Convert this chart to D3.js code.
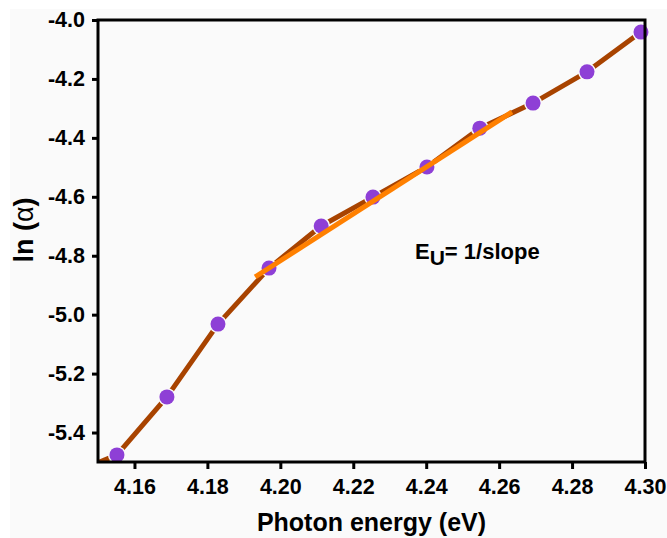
<!DOCTYPE html>
<html>
<head>
<meta charset="utf-8">
<script src="https://cdn.jsdelivr.net/npm/d3@7"></script>
<style>
  html, body { margin: 0; padding: 0; background: #ffffff; }
  svg { display: block; }
  text { font-family: "Liberation Sans", Arial, sans-serif; font-weight: bold; fill: #000; }
</style>
</head>
<body>
<svg id="chart" width="667" height="538"></svg>
<script>
// ---- data ----
const photonEnergy = [4.1409, 4.1552, 4.1689, 4.1829, 4.1969, 4.2112, 4.2254, 4.2402, 4.2547, 4.2693, 4.2841, 4.2989];
const lnAlpha      = [-5.548, -5.476, -5.279, -5.032, -4.842, -4.699, -4.601, -4.499, -4.367, -4.282, -4.176, -4.041];
const fitX = [4.1931, 4.2635];
const fitY = [-4.872, -4.312];
const xTicks = [4.16, 4.18, 4.20, 4.22, 4.24, 4.26, 4.28, 4.30];
const yTicks = [-4.0, -4.2, -4.4, -4.6, -4.8, -5.0, -5.2, -5.4];
const xTitle = "Photon energy (eV)";
const annotation = { main: "E", sub: "U", rest: "= 1/slope" };

// ---- layout ----
const svg = d3.select("#chart");
const W = 667, H = 538;
const m = { left: 98, right: 645, top: 20, bottom: 462 };

svg.append("rect").attr("x", 10).attr("y", 9).attr("width", W - 10).attr("height", H - 9).attr("fill", "#fafafa");

const x = d3.scaleLinear().domain([4.15, 4.30]).range([m.left, m.right]);
const y = d3.scaleLinear().domain([-5.5, -4.0]).range([m.bottom, m.top]);

svg.append("clipPath").attr("id", "clip")
  .append("rect").attr("x", m.left).attr("y", m.top)
  .attr("width", m.right - m.left).attr("height", m.bottom - m.top);

const pts = photonEnergy.map((e, i) => [e, lnAlpha[i]]);
const plot = svg.append("g").attr("clip-path", "url(#clip)");

plot.append("path")
  .datum(pts)
  .attr("d", d3.line().x(d => x(d[0])).y(d => y(d[1])))
  .attr("fill", "none").attr("stroke", "#a84300").attr("stroke-width", 5)
  .attr("stroke-linejoin", "round");

const dotsG = svg.append("g");
dotsG.selectAll("circle").data(pts.filter(d => d[1] >= -5.5))
  .enter().append("circle")
  .attr("cx", d => x(d[0])).attr("cy", d => y(d[1])).attr("r", 7.5)
  .attr("fill", "#8e3fd6").attr("stroke", "#fafafa").attr("stroke-width", 3)
  .attr("paint-order", "stroke");

svg.append("line")
  .attr("x1", x(fitX[0])).attr("y1", y(fitY[0]))
  .attr("x2", x(fitX[1])).attr("y2", y(fitY[1]))
  .attr("stroke", "#ff8000").attr("stroke-width", 5);

// ---- axes ----
const xAxis = d3.axisBottom(x).tickValues(xTicks).tickFormat(d3.format(".2f")).tickSize(7).tickPadding(10);
const yAxis = d3.axisLeft(y).tickValues(yTicks).tickFormat(d3.format(".1f")).tickSize(6).tickPadding(7);

const gx = svg.append("g").attr("transform", `translate(0,${m.bottom})`).call(xAxis);
const gy = svg.append("g").attr("transform", `translate(${m.left},0)`).call(yAxis);
[gx, gy].forEach(g => {
  g.select(".domain").remove();
  g.selectAll(".tick line").attr("stroke", "#000").attr("stroke-width", 3);
  g.selectAll(".tick text").attr("font-size", 21.5).attr("font-family", "Liberation Sans, Arial, sans-serif").attr("font-weight", "bold").attr("fill", "#000");
});
gy.selectAll(".tick text").text(d => d3.format(".1f")(d).replace("−", "-"));

svg.append("rect")
  .attr("x", m.left).attr("y", m.top)
  .attr("width", m.right - m.left).attr("height", m.bottom - m.top)
  .attr("fill", "none").attr("stroke", "#000").attr("stroke-width", 3);

// ---- titles ----
svg.append("text")
  .attr("x", (m.left + m.right) / 2).attr("y", 531)
  .attr("text-anchor", "middle").attr("font-size", 25)
  .text(xTitle);

const yt = svg.append("text")
  .attr("transform", `translate(33,${(m.top + m.bottom) / 2 - 11}) rotate(-90)`)
  .attr("text-anchor", "middle").attr("font-size", 27);
yt.append("tspan").text("ln (");
yt.append("tspan").attr("font-weight", "normal").text("α");
yt.append("tspan").text(")");

const an = svg.append("text")
  .attr("x", 415).attr("y", 259).attr("font-size", 22);
an.append("tspan").text(annotation.main);
an.append("tspan").attr("dy", 6).attr("font-size", 21).text(annotation.sub);
an.append("tspan").attr("dy", -6).text(annotation.rest);
</script>
</body>
</html>
